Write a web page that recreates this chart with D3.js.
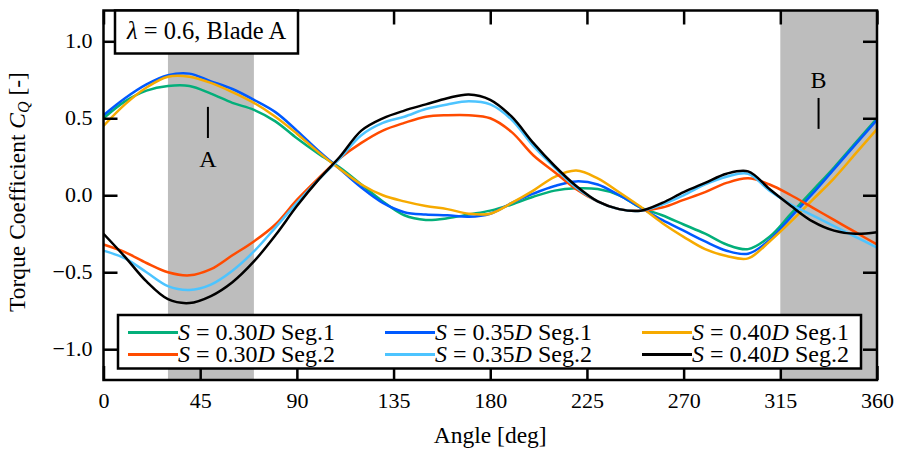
<!DOCTYPE html>
<html>
<head>
<meta charset="utf-8">
<script src="https://cdn.jsdelivr.net/npm/d3@7"></script>
<style>
  body { margin: 0; background: #fff; }
  svg { display: block; }
  text { font-family: "Liberation Serif", "Times New Roman", Times, serif; fill: #000; }
</style>
</head>
<body>
<svg width="898" height="449"></svg>
<script>
(() => {

    var width = 898;
    var height = 449;
    var plot = { left: 103.5, right: 877, top: 10.5, bottom: 380 };

    var angles = [0, 10, 20, 30, 40, 50, 60, 70, 80, 90, 100, 110, 120, 130, 140, 150, 160, 170, 180,
        190, 200, 210, 220, 230, 240, 250, 260, 270, 280, 290, 300, 310, 320, 330, 340, 350, 360];

    // torque coefficient per series
    var s30seg1 = [0.50, 0.61, 0.68, 0.71, 0.71, 0.66, 0.60, 0.555, 0.48, 0.37, 0.27, 0.18, 0.07, -0.04, -0.13, -0.16, -0.15, -0.125, -0.10,
        -0.06, -0.01, 0.03, 0.045, 0.04, 0.0, -0.08, -0.13, -0.19, -0.25, -0.32, -0.35, -0.27, -0.12, 0.03, 0.18, 0.34, 0.50];
    var s35seg1 = [0.52, 0.63, 0.72, 0.78, 0.79, 0.74, 0.69, 0.62, 0.54, 0.42, 0.29, 0.17, 0.05, -0.05, -0.11, -0.125, -0.13, -0.14, -0.12,
        -0.05, 0.01, 0.06, 0.09, 0.07, 0.0, -0.08, -0.16, -0.23, -0.30, -0.36, -0.38, -0.29, -0.14, 0.01, 0.17, 0.33, 0.49];
    var s40seg1 = [0.45, 0.59, 0.70, 0.77, 0.77, 0.73, 0.67, 0.60, 0.51, 0.40, 0.28, 0.17, 0.07, 0.0, -0.04, -0.07, -0.09, -0.12, -0.12,
        -0.05, 0.03, 0.12, 0.16, 0.11, 0.02, -0.075, -0.18, -0.27, -0.35, -0.395, -0.41, -0.30, -0.17, -0.03, 0.11, 0.27, 0.43];
    var s30seg2 = [-0.32, -0.37, -0.44, -0.50, -0.52, -0.48, -0.39, -0.30, -0.19, -0.03, 0.11, 0.24, 0.34, 0.42, 0.47, 0.51, 0.52, 0.52, 0.50,
        0.41, 0.26, 0.15, 0.04, -0.04, -0.09, -0.10, -0.08, -0.03, 0.02, 0.08, 0.11, 0.07, 0.0, -0.08, -0.16, -0.24, -0.32];
    var s35seg2 = [-0.36, -0.41, -0.50, -0.59, -0.615, -0.58, -0.49, -0.365, -0.21, -0.05, 0.10, 0.24, 0.39, 0.47, 0.51, 0.56, 0.59, 0.61, 0.59,
        0.49, 0.32, 0.18, 0.05, -0.04, -0.09, -0.10, -0.06, 0.0, 0.07, 0.12, 0.14, 0.03, -0.06, -0.13, -0.20, -0.27, -0.34];
    var s40seg2 = [-0.25, -0.40, -0.56, -0.675, -0.70, -0.655, -0.565, -0.43, -0.26, -0.07, 0.10, 0.25, 0.42, 0.50, 0.55, 0.59, 0.63, 0.655, 0.62,
        0.51, 0.34, 0.19, 0.06, -0.04, -0.09, -0.10, -0.05, 0.02, 0.08, 0.14, 0.155, 0.04, -0.07, -0.17, -0.23, -0.25, -0.24];

    var seriesNames = ["S = 0.30D Seg.1", "S = 0.30D Seg.2", "S = 0.35D Seg.1", "S = 0.35D Seg.2", "S = 0.40D Seg.1", "S = 0.40D Seg.2"];
    var seriesValues = [s30seg1, s30seg2, s35seg1, s35seg2, s40seg1, s40seg2];
    var seriesColors = ["#03af7a", "#ff4b00", "#005aff", "#4dc4ff", "#f6aa00", "#000000"];

    // shaded angle ranges
    var bands = [[30, 70], [315, 360]];

    var xTicks = [0, 45, 90, 135, 180, 225, 270, 315, 360];
    var yTicks = [-1.0, -0.5, 0.0, 0.5, 1.0];

    var x = d3.scaleLinear().domain([0, 360]).range([plot.left, plot.right]);
    var y = d3.scaleLinear().domain([-1.2, 1.2]).range([plot.bottom, plot.top]);

    var svg = d3.select('svg');

    svg.append("defs").append("clipPath").attr("id", "clip")
        .append("rect")
        .attr("x", plot.left).attr("y", plot.top)
        .attr("width", plot.right - plot.left).attr("height", plot.bottom - plot.top);

    // grey bands
    svg.selectAll(".band")
        .data(bands)
        .enter().append("rect")
        .attr("class", "band")
        .attr("x", d => x(d[0]))
        .attr("y", plot.top)
        .attr("width", d => x(d[1]) - x(d[0]))
        .attr("height", plot.bottom - plot.top)
        .attr("fill", "#bdbdbd");

    // curves
    var line = d3.line()
        .x((d, i) => x(angles[i]))
        .y(d => y(d))
        .curve(d3.curveCatmullRom.alpha(0.5));

    var drawOrder = [0, 2, 4, 1, 3, 5];
    svg.append("g").attr("clip-path", "url(#clip)")
        .selectAll("path")
        .data(drawOrder)
        .enter().append("path")
        .attr("d", k => line(seriesValues[k]))
        .attr("fill", "none")
        .attr("stroke", k => seriesColors[k])
        .attr("stroke-width", 2.5)
        .attr("stroke-linejoin", "round");

    // axes, ticks inward on all four sides
    var tickLen = 14;
    var axisBottom = svg.append("g")
        .attr('transform', 'translate(' + [0, plot.bottom] + ')')
        .call(d3.axisBottom(x).tickValues(xTicks).tickSizeInner(-tickLen).tickSizeOuter(0));
    var axisTop = svg.append("g")
        .attr('transform', 'translate(' + [0, plot.top] + ')')
        .call(d3.axisTop(x).tickValues(xTicks).tickSizeInner(-tickLen).tickSizeOuter(0).tickFormat(""));
    var axisLeft = svg.append("g")
        .attr('transform', 'translate(' + [plot.left, 0] + ')')
        .call(d3.axisLeft(y).tickValues(yTicks).tickSizeInner(-tickLen).tickSizeOuter(0).tickPadding(11).tickFormat(d3.format(".1f")));
    var axisRight = svg.append("g")
        .attr('transform', 'translate(' + [plot.right, 0] + ')')
        .call(d3.axisRight(y).tickValues(yTicks).tickSizeInner(-tickLen).tickSizeOuter(0).tickFormat(""));

    [axisBottom, axisTop, axisLeft, axisRight].forEach(g => {
        g.select(".domain").remove();
        g.selectAll("line").attr("stroke", "#000").attr("stroke-width", 2.5);
        g.selectAll("text").attr("font-size", 22).attr("fill", "#000");
    });
    axisBottom.selectAll("text").attr("dy", 0).attr("y", 28);
    axisLeft.selectAll("text").attr("dy", "0.3em");

    // annotations A and B
    var notes = [{ t: "A", a: 48.6, top: 0.574, bot: 0.372, ty: 0.184 }, { t: "B", a: 332.8, top: 0.632, bot: 0.431, ty: 0.696 }];
    notes.forEach(n => {
        svg.append("line")
            .attr("x1", x(n.a)).attr("x2", x(n.a))
            .attr("y1", y(n.top)).attr("y2", y(n.bot))
            .attr("stroke", "#000").attr("stroke-width", 2);
        svg.append("text")
            .attr("x", x(n.a)).attr("y", y(n.ty))
            .attr("text-anchor", "middle")
            .attr("font-size", 24)
            .text(n.t);
    });

    // frame
    svg.append("rect")
        .attr("x", plot.left).attr("y", plot.top)
        .attr("width", plot.right - plot.left).attr("height", plot.bottom - plot.top)
        .attr("fill", "none").attr("stroke", "#000").attr("stroke-width", 2.5);

    // condition label box
    svg.append("rect")
        .attr("x", 115).attr("y", plot.top)
        .attr("width", 183).attr("height", 43)
        .attr("fill", "#fff").attr("stroke", "#000").attr("stroke-width", 2.5);
    var lab = svg.append("text").attr("x", 127).attr("y", 39).attr("font-size", 24.5);
    lab.append("tspan").attr("font-style", "italic").text("λ");
    lab.append("tspan").text(" = 0.6, Blade A");

    // legend
    var legend = svg.append("g");
    legend.append("rect")
        .attr("x", 118).attr("y", 315)
        .attr("width", 743).attr("height", 53.5)
        .attr("fill", "#fff").attr("stroke", "#000").attr("stroke-width", 2.5);

    var colX = [128, 385, 642];
    var rowY = [332.5, 354.5];
    seriesNames.forEach((name, i) => {
        var cx = colX[Math.floor(i / 2)];
        var cy = rowY[i % 2];
        legend.append("line")
            .attr("x1", cx).attr("x2", cx + 50)
            .attr("y1", cy).attr("y2", cy)
            .attr("stroke", seriesColors[i]).attr("stroke-width", 3);
        var t = legend.append("text").attr("x", cx + 50).attr("y", cy + 7.5).attr("font-size", 24);
        var parts = name.match(/^S = ([\d.]+)D (Seg\.\d)$/);
        t.append("tspan").attr("font-style", "italic").text("S");
        t.append("tspan").text(" = " + parts[1]);
        t.append("tspan").attr("font-style", "italic").text("D");
        t.append("tspan").text(" " + parts[2]);
    });

    // axis titles
    svg.append("text")
        .attr("x", (plot.left + plot.right) / 2).attr("y", 443)
        .attr("text-anchor", "middle").attr("font-size", 23.5)
        .text("Angle [deg]");

    var yt = svg.append("text")
        .attr("transform", "translate(25," + 192 + ") rotate(-90)")
        .attr("text-anchor", "middle").attr("font-size", 23.5);
    yt.append("tspan").text("Torque Coefficient ");
    yt.append("tspan").attr("font-style", "italic").text("C");
    yt.append("tspan").attr("font-style", "italic").attr("font-size", 16).attr("dy", 4).text("Q");
    yt.append("tspan").attr("dy", -4).text(" [-]");

})();
</script>
</body>
</html>
